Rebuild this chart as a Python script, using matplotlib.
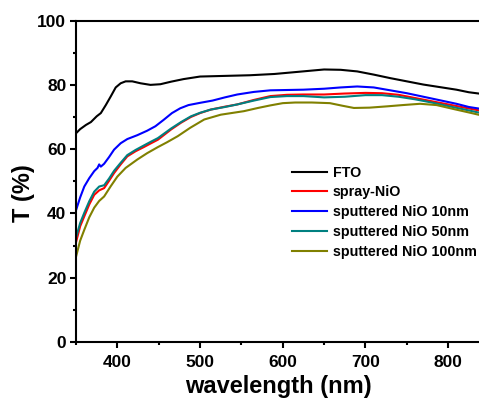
import matplotlib
matplotlib.use('Agg')
import matplotlib.pyplot as plt
from matplotlib.ticker import MultipleLocator

plt.rcParams['font.family'] = ['Liberation Sans', 'DejaVu Sans']
plt.rcParams['font.weight'] = 'bold'

# 透过率谱数据 (wavelength in nm, T in %)
fto_wl = [350, 355, 362, 368, 375, 380, 386, 392, 398, 404, 410, 418, 428, 440, 452,
          465, 480, 500, 530, 560, 590, 620, 650, 670, 690, 710, 730, 750, 770, 790,
          810, 825, 840]
fto_t = [65, 66.3, 67.6, 68.5, 70.3, 71.3, 73.8, 76.5, 79.3, 80.6, 81.2, 81.2, 80.6,
         80.1, 80.3, 81.1, 81.9, 82.7, 82.9, 83.1, 83.5, 84.2, 84.9, 84.8, 84.3, 83.3,
         82.2, 81.2, 80.2, 79.4, 78.6, 77.8, 77.3]

nio10_wl = [350, 355, 360, 366, 372, 376, 378, 380, 384, 390, 396, 404, 412, 424, 436,
            446, 456, 466, 476, 486, 500, 515, 530, 545, 565, 585, 605, 625, 650, 670,
            690, 710, 730, 750, 770, 790, 810, 825, 840]
nio10_t = [41, 45, 48.4, 51, 53.2, 54.2, 55.3, 54.6, 55.5, 57.6, 59.9, 61.9, 63.2, 64.4,
           65.8, 67.2, 69.2, 71.3, 72.8, 73.8, 74.5, 75.2, 76.2, 77.1, 77.9, 78.4, 78.5,
           78.6, 78.9, 79.3, 79.6, 79.3, 78.4, 77.5, 76.4, 75.3, 74.2, 73.2, 72.6]

spray_wl = [350, 355, 360, 366, 372, 378, 384, 390, 396, 404, 412, 422, 432, 440, 449,
            457, 465, 477, 489, 500, 513, 530, 545, 565, 585, 605, 625, 650, 675, 700,
            720, 740, 760, 780, 800, 820, 840]
spray_t = [31, 36, 39.1, 42.8, 45.8, 47.2, 47.9, 50.2, 52.6, 55.3, 57.8, 59.4, 60.7, 61.8,
           63, 64.6, 66.2, 68.3, 70.1, 71.3, 72.4, 73.3, 74, 75.4, 76.6, 77, 77.1, 77.1,
           77.4, 77.6, 77.5, 77, 76, 75, 74, 73, 72]

nio50_wl = spray_wl
nio50_t = [32.5, 37, 40.2, 43.8, 46.8, 48.4, 48.8, 50.9, 53.3, 55.8, 58.2, 59.8, 61.2,
           62.3, 63.5, 65, 66.5, 68.5, 70.3, 71.4, 72.4, 73.2, 74, 75.2, 76.3, 76.6, 76.6,
           76.2, 76.4, 76.9, 76.9, 76.4, 75.6, 74.6, 73.5, 72.4, 71.3]

nio100_wl = [350, 355, 360, 366, 372, 378, 384, 392, 400, 410, 424, 436, 449, 460, 473,
             488, 505, 525, 553, 570, 585, 600, 615, 635, 657, 672, 686, 705, 726, 745,
             766, 786, 806, 825, 840]
nio100_t = [26.5, 31.5, 34.9, 38.8, 41.8, 43.9, 45.3, 48.5, 51.5, 54.2, 56.8, 58.8, 60.7,
            62.2, 64.1, 66.7, 69.3, 70.8, 71.9, 72.9, 73.7, 74.4, 74.6, 74.6, 74.4, 73.6,
            72.9, 73.0, 73.4, 73.8, 74.2, 73.8, 72.6, 71.5, 70.6]

series = [
    (fto_wl, fto_t, 'FTO', 'black'),
    (spray_wl, spray_t, 'spray-NiO', '#ff0000'),
    (nio10_wl, nio10_t, 'sputtered NiO 10nm', '#0000ff'),
    (nio50_wl, nio50_t, 'sputtered NiO 50nm', '#008080'),
    (nio100_wl, nio100_t, 'sputtered NiO 100nm', '#808000'),
]

fig = plt.figure(figsize=(4.79, 4.09), dpi=100)
ax = fig.add_axes([0.1587, 0.1645, 0.846, 0.784])

for wl, t, name, c in series:
    ax.plot(wl, t, color=c, lw=1.5, label=name)

ax.set_xlim(350, 840)
ax.set_ylim(0, 100)
ax.xaxis.set_major_locator(MultipleLocator(100))
ax.xaxis.set_minor_locator(MultipleLocator(50))
ax.yaxis.set_major_locator(MultipleLocator(20))
ax.yaxis.set_minor_locator(MultipleLocator(10))

for s in ax.spines.values():
    s.set_linewidth(1.5)
ax.tick_params(which='major', direction='out', length=4.5, width=1.5,
               labelsize=12.5, pad=2.5)
ax.tick_params(which='minor', direction='out', length=2.5, width=1.5)
ax.tick_params(axis='x', which='major', pad=5)
for lab in ax.get_xticklabels() + ax.get_yticklabels():
    lab.set_fontweight('bold')

ax.set_xlabel('wavelength (nm)', fontsize=17, fontweight='bold')
ax.set_ylabel('T (%)', fontsize=17, fontweight='bold')
ax.yaxis.set_label_coords(-0.101, 0.464)

leg = ax.legend(loc='upper left', bbox_to_anchor=(0.52, 0.567), frameon=False,
                prop={'size': 10.3, 'weight': 'bold'}, handlelength=2.4,
                handletextpad=0.4, labelspacing=0.4, borderaxespad=0)

fig.savefig('out.png', dpi=100)
